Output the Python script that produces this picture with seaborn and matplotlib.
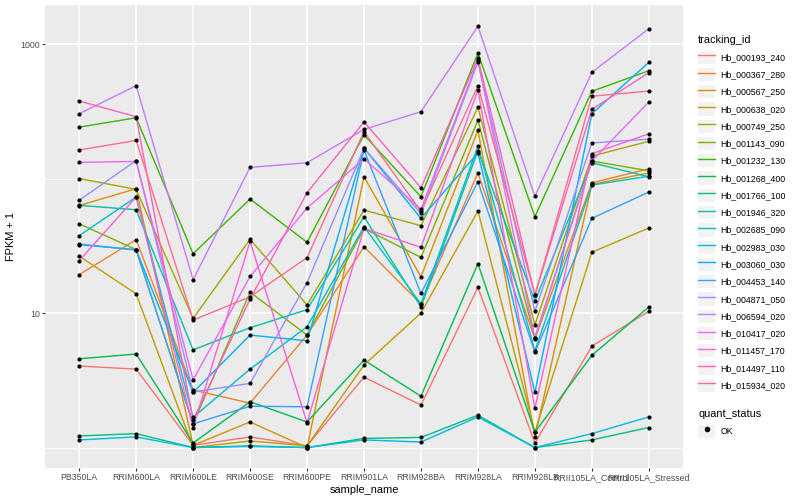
import numpy as np
import pandas as pd
import seaborn as sns
import matplotlib
matplotlib.use("Agg")
import matplotlib.pyplot as plt
from matplotlib.lines import Line2D
from matplotlib.patches import Patch
from matplotlib.legend_handler import HandlerTuple
from matplotlib.ticker import FixedLocator, NullFormatter

# samples on the x axis
samples = ["PB350LA", "RRIM600LA", "RRIM600LE", "RRIM600SE", "RRIM600PE", "RRIM901LA",
           "RRIM928BA", "RRIM928LA", "RRIM928LB", "RRII105LA_Control", "RRII105LA_Stressed"]

genes = ["Hb_000193_240", "Hb_000367_280", "Hb_000567_250", "Hb_000638_020", "Hb_000749_250",
         "Hb_001143_090", "Hb_001232_130", "Hb_001268_400", "Hb_001766_100", "Hb_001946_320",
         "Hb_002685_090", "Hb_002983_030", "Hb_003060_030", "Hb_004453_140", "Hb_004871_050",
         "Hb_006594_020", "Hb_010417_020", "Hb_011457_170", "Hb_014497_110", "Hb_015934_020"]

# ggplot default hue colours
colors = ["#F8766D", "#EA8331", "#D89000", "#C09B00", "#A3A500", "#7CAE00", "#39B600", "#00BB4E",
          "#00BF7D", "#00C1A3", "#00BFC4", "#00BAE0", "#00B0F6", "#35A2FF", "#9590FF", "#C77CFF",
          "#E76BF3", "#FA62DB", "#FF62BC", "#FF6C91"]

# FPKM + 1, one list per gene
hb_000193_240 = [4.04, 3.83, 1.04, 1.20, 1.03, 3.34, 2.07, 15.5, 1.08, 5.68, 10.3]
hb_000367_280 = [19.3, 35.1, 2.68, 2.14, 6.86, 31.1, 11.7, 110, 6.41, 93, 118]
hb_000567_250 = [63, 84, 1.04, 1.55, 1.0, 103, 18.6, 228, 1.20, 90.5, 110]
hb_000638_020 = [26.5, 13.9, 1.0, 1.12, 1.03, 4.11, 10.0, 57.3, 1.30, 28.3, 42.9]
hb_000749_250 = [100, 83, 9.13, 35.3, 11.5, 58.3, 44.6, 338, 8.18, 147, 189]
hb_001143_090 = [46.1, 29.6, 1.50, 14.3, 6.86, 42.6, 25.9, 271, 6.55, 135, 114]
hb_001232_130 = [241, 283, 27.6, 70.4, 33.6, 211, 73.2, 857, 52, 445, 633]
hb_001268_400 = [4.57, 4.96, 1.08, 2.19, 1.55, 4.47, 2.41, 23.3, 1.30, 4.85, 11.1]
hb_001766_100 = [1.22, 1.27, 1.0, 1.03, 1.0, 1.17, 1.19, 1.74, 1.0, 1.14, 1.41]
hb_001946_320 = [63.2, 58.6, 5.33, 7.78, 10.6, 52, 11.1, 161, 12.3, 131, 103]
hb_002685_090 = [37.6, 72.9, 1.68, 3.83, 7.91, 43.8, 11.7, 174, 5.24, 89.5, 104]
hb_002983_030 = [1.14, 1.20, 1.0, 1.02, 1.0, 1.14, 1.10, 1.69, 1.0, 1.27, 1.69]
hb_003060_030 = [32.2, 29.6, 2.57, 6.86, 6.22, 168, 50.6, 155, 2.57, 303, 731]
hb_004453_140 = [32.6, 29.4, 1.50, 2.03, 2.01, 163, 14.0, 94.7, 5.10, 50.6, 79.4]
hb_004871_050 = [68.9, 136, 2.59, 3.0, 16.8, 168, 55.1, 735, 10.3, 184, 196]
hb_006594_020 = [303, 490, 17.7, 121, 131, 232, 314, 1354, 73.7, 616, 1300]
hb_010417_020 = [132, 134, 3.19, 18.7, 60.4, 140, 59, 756, 6.55, 135, 371]
hb_011457_170 = [24.5, 72.9, 1.41, 34.1, 1.53, 42.6, 30.8, 455, 1.96, 153, 215]
hb_014497_110 = [377, 288, 1.60, 12.7, 78.4, 264, 85.4, 783, 13.6, 327, 612]
hb_015934_020 = [163, 192, 8.87, 13.2, 25.8, 223, 57, 490, 13.6, 409, 447]

series = [hb_000193_240, hb_000367_280, hb_000567_250, hb_000638_020, hb_000749_250,
          hb_001143_090, hb_001232_130, hb_001268_400, hb_001766_100, hb_001946_320,
          hb_002685_090, hb_002983_030, hb_003060_030, hb_004453_140, hb_004871_050,
          hb_006594_020, hb_010417_020, hb_011457_170, hb_014497_110, hb_015934_020]

rows = []
for g, vals in zip(genes, series):
    for i, (s, v) in enumerate(zip(samples, vals)):
        rows.append({"tracking_id": g, "sample_name": s, "pos": i, "fpkm1": v})
df = pd.DataFrame(rows)

plt.rcParams["font.family"] = ["Liberation Sans", "DejaVu Sans"]

fig = plt.figure(figsize=(8, 5), dpi=100)
ax = fig.add_axes([45 / 800, 32 / 500, 638 / 800, 463 / 500])
ax.set_facecolor("#EBEBEB")
for sp in ax.spines.values():
    sp.set_visible(False)

sns.lineplot(data=df, x="pos", y="fpkm1", hue="tracking_id", palette=dict(zip(genes, colors)),
             estimator=None, sort=False, legend=False, linewidth=1.0, ax=ax)
sns.scatterplot(data=df, x="pos", y="fpkm1", color="black", s=9, linewidth=0,
                legend=False, ax=ax, zorder=3)

ax.set_yscale("log")
ax.set_ylim(0.705, 1950)
ax.set_xlim(-0.6, 10.6)
ax.set_yticks([10, 1000])
ax.set_yticklabels(["10", "1000"])
ax.yaxis.set_minor_locator(FixedLocator([1, 100]))
ax.yaxis.set_minor_formatter(NullFormatter())
ax.set_xticks(range(len(samples)))
ax.set_xticklabels(samples)
ax.set_axisbelow(True)
ax.grid(which="major", color="white", linewidth=1.1)
ax.grid(which="minor", axis="y", color="white", linewidth=0.55)
ax.tick_params(which="major", length=2, width=0.8, color="#333333", labelsize=6.3,
               labelcolor="#4D4D4D", pad=1.6)
ax.tick_params(which="minor", length=0)
ax.set_xlabel("sample_name", fontsize=7.9, labelpad=2)
ax.set_ylabel("FPKM + 1", fontsize=7.9, labelpad=3)

key = Patch(facecolor="#F2F2F2", edgecolor="none")
handles = [(key, Line2D([0], [0], color=c, lw=1.0)) for c in colors]
leg1 = fig.legend(handles, genes, handler_map={tuple: HandlerTuple(ndivide=1, pad=0)},
                  loc="upper left", bbox_to_anchor=(692 / 800, 1 - 29 / 500), frameon=False,
                  title="tracking_id", title_fontsize=7.9, fontsize=6.3, handlelength=1.95,
                  handleheight=1.95, labelspacing=0.46, handletextpad=0.6, borderpad=0.2)
leg1._legend_box.align = "left"
leg1._legend_box.sep = 4

ok_handle = (Patch(facecolor="#F2F2F2", edgecolor="none"),
             Line2D([0], [0], marker="o", color="black", linestyle="none", markersize=3))
leg2 = fig.legend([ok_handle], ["OK"], handler_map={tuple: HandlerTuple(ndivide=1, pad=0)},
                  loc="upper left", bbox_to_anchor=(692 / 800, 1 - 403 / 500), frameon=False,
                  title="quant_status", title_fontsize=7.9, fontsize=6.3, handlelength=1.95,
                  handleheight=1.95, handletextpad=0.6, borderpad=0.2)
leg2._legend_box.align = "left"
leg2._legend_box.sep = 4

fig.savefig("out.png", dpi=100, facecolor="white")
